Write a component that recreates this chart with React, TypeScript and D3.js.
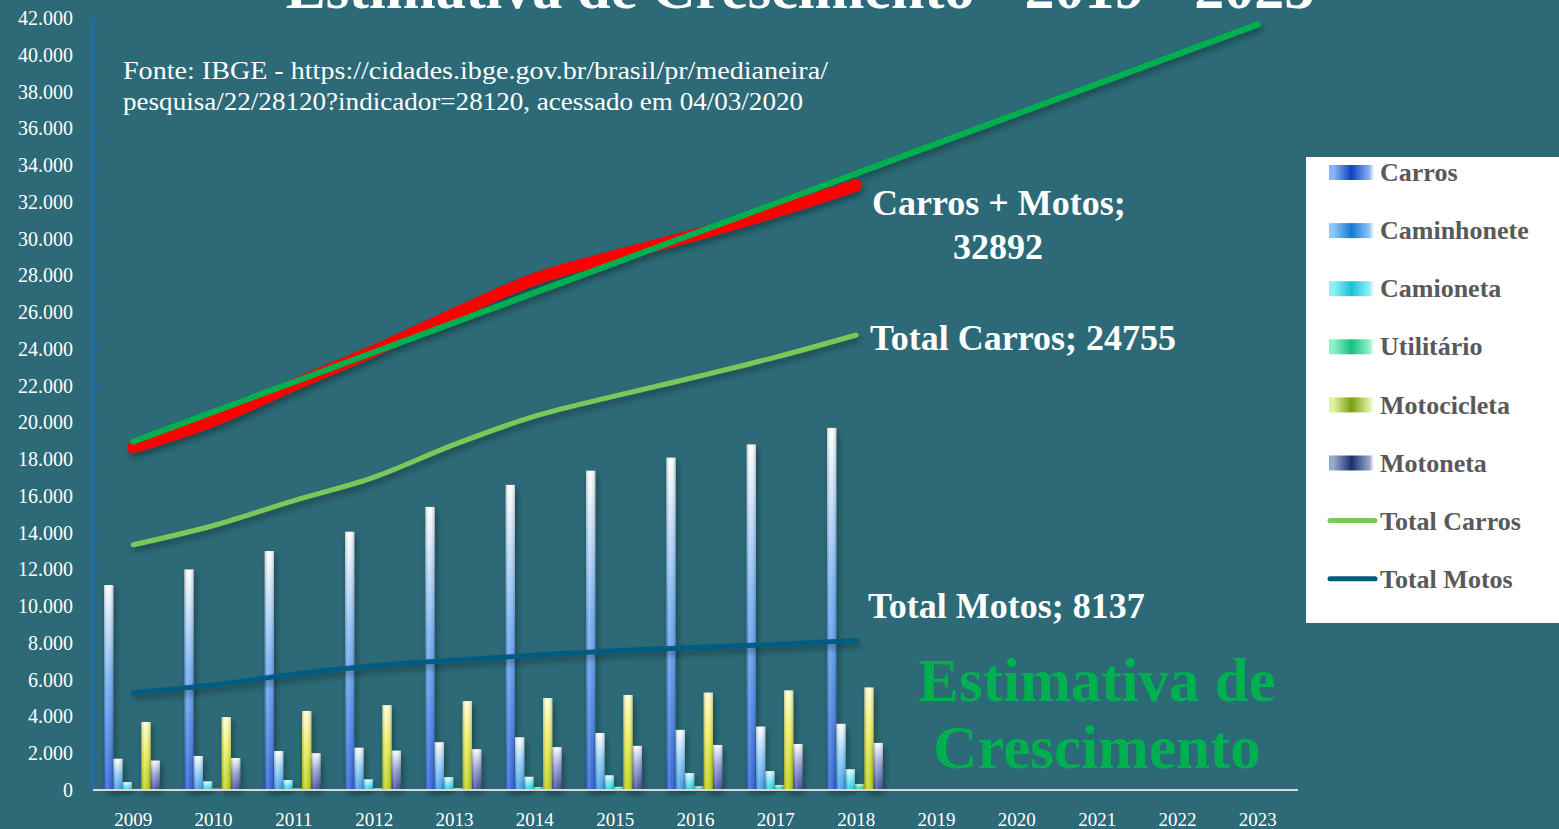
import React from 'react';
import * as d3 from 'd3';

const years = ['2009', '2010', '2011', '2012', '2013', '2014', '2015', '2016', '2017', '2018', '2019', '2020', '2021', '2022', '2023'];
const dataYears = years.slice(0, 10);

const seriesNames = ['Carros', 'Caminhonete', 'Camioneta', 'Utilitário', 'Motocicleta', 'Motoneta'];
const carros = [11150, 12000, 13000, 14050, 15400, 16600, 17370, 18080, 18800, 19700];
const caminhonete = [1700, 1850, 2120, 2300, 2600, 2870, 3100, 3270, 3450, 3600];
const camioneta = [430, 470, 540, 580, 700, 720, 800, 920, 1030, 1130];
const utilitario = [60, 70, 80, 90, 100, 150, 170, 200, 270, 320];
const motocicleta = [3700, 3970, 4300, 4620, 4840, 5000, 5170, 5300, 5420, 5580];
const motoneta = [1600, 1740, 2000, 2140, 2220, 2330, 2400, 2450, 2500, 2560];

const totalCarros = [13340, 14390, 15740, 17020, 18800, 20340, 21440, 22470, 23550, 24755];
const totalMotos = [5300, 5710, 6300, 6760, 7060, 7330, 7570, 7750, 7920, 8137];
const carrosMotos = [18640, 20100, 22040, 23900, 25900, 27800, 29050, 30200, 31470, 32892];
// linear trend line (Excel), endpoints
const trendYears = ['2009', '2023'];
const trendValues = [18950, 41650];

const yTicks = d3.range(0, 42001, 2000);

const barSeries = [carros, caminhonete, camioneta, utilitario, motocicleta, motoneta];
// [bottom, middle, top] for bars; [edge, center] for legend swatches
const barColors = [
  ['#2f66d8', '#78b2f4', '#ffffff'],
  ['#3f9cec', '#96d2fa', '#ffffff'],
  ['#1fcbe4', '#7eeaf8', '#e8fcff'],
  ['#1fc58a', '#6fe0b6', '#d8fff0'],
  ['#c0d41c', '#ecee60', '#ffffd0'],
  ['#3e4e9c', '#98a2d4', '#ffffff'],
];
const swatchColors = [
  ['#8ab4f8', '#1040c0'],
  ['#8cc8f8', '#1878d0'],
  ['#90f0f8', '#18c0d8'],
  ['#90f0c8', '#18c080'],
  ['#e0f0a0', '#78a010'],
  ['#98a8cc', '#1a3070'],
];

const BG = '#2b6a76';
const serif = '"Liberation Serif", "DejaVu Serif", serif';

export default function App() {
  const width = 1559;
  const height = 829;

  const x = d3.scaleBand<string>().domain(years).range([93, 1298]).padding(0);
  const inner = d3.scaleBand<number>().domain(d3.range(6)).range([11, 67]).padding(0);
  const y = d3.scaleLinear().domain([0, 42000]).range([790, 18]);
  const cx = (yr: string) => (x(yr) as number) + x.bandwidth() / 2;

  const fmt = d3.formatLocale({ decimal: ',', thousands: '.', grouping: [3], currency: ['', ''] }).format(',d');

  const line = d3.line<[string, number]>().x(d => cx(d[0])).y(d => y(d[1])).curve(d3.curveMonotoneX);
  const zip = (vals: number[], ys: string[] = dataYears) => vals.map((v, i) => [ys[i], v] as [string, number]);

  const legendItems = [...seriesNames, 'Total Carros', 'Total Motos'];

  return (
    <svg width={width} height={height} style={{ display: 'block', position: 'absolute', left: 0, top: 0 }}>
      <defs>
        {barColors.map((c, i) => (
          <linearGradient key={i} id={`bar${i}`} x1="0" y1="1" x2="0" y2="0">
            <stop offset="0" stopColor={c[0]} />
            <stop offset="0.55" stopColor={c[1]} />
            <stop offset="1" stopColor={c[2]} />
          </linearGradient>
        ))}
        <linearGradient id="gloss" x1="0" y1="0" x2="1" y2="0">
          <stop offset="0" stopColor="#000" stopOpacity="0.2" />
          <stop offset="0.3" stopColor="#fff" stopOpacity="0.2" />
          <stop offset="0.55" stopColor="#fff" stopOpacity="0.05" />
          <stop offset="1" stopColor="#000" stopOpacity="0.22" />
        </linearGradient>
        {swatchColors.map((c, i) => (
          <linearGradient key={i} id={`sw${i}`} x1="0" y1="0" x2="1" y2="0">
            <stop offset="0" stopColor={c[0]} />
            <stop offset="0.1" stopColor={c[0]} />
            <stop offset="0.5" stopColor={c[1]} />
            <stop offset="0.9" stopColor={c[0]} />
            <stop offset="1" stopColor="#ffffff" />
          </linearGradient>
        ))}
        <filter id="shadow" x="-10%" y="-10%" width="120%" height="130%">
          <feDropShadow dx="2" dy="4" stdDeviation="3" floodColor="#000" floodOpacity="0.35" />
        </filter>
      </defs>

      <rect x={0} y={0} width={width} height={height} fill={BG} />

      {/* title, clipped at the top of the picture as in the slide */}
      <text x={800} y={8} textAnchor="middle" fill="#fff" fontFamily={serif} fontWeight="bold" fontSize={60}>
        Estimativa de Crescimento - 2019 - 2023
      </text>

      {/* y axis */}
      <line x1={93} x2={93} y1={y(42000)} y2={y(0)} stroke="#1a6cc8" strokeWidth={2} />
      {yTicks.map(t => (
        <g key={t}>
          <line x1={93} x2={99} y1={y(t)} y2={y(t)} stroke="#1a6cc8" strokeWidth={1.5} />
          <text x={73} y={y(t)} dy="0.35em" textAnchor="end" fill="#fff" fontFamily={serif} fontSize={20}>
            {fmt(t)}
          </text>
        </g>
      ))}

      {/* bars */}
      {barSeries.map((vals, si) => (
        <g key={si} filter="url(#shadow)">
          {vals.map((v, i) => {
            const bx = (x(dataYears[i]) as number) + (inner(si) as number);
            const bw = inner.bandwidth();
            return (
              <g key={i}>
                <rect x={bx} y={y(v)} width={bw} height={y(0) - y(v)} fill={`url(#bar${si})`} />
                <rect x={bx} y={y(v)} width={bw} height={y(0) - y(v)} fill="url(#gloss)" />
              </g>
            );
          })}
        </g>
      ))}

      {/* x axis */}
      <line x1={93} x2={1298} y1={y(0)} y2={y(0)} stroke="#d9d9d9" strokeWidth={2} />
      {years.map(yr => (
        <text key={yr} x={cx(yr)} y={826} textAnchor="middle" fill="#fff" fontFamily={serif} fontSize={19}>
          {yr}
        </text>
      ))}

      {/* lines */}
      <g filter="url(#shadow)" fill="none" strokeLinecap="round">
        <path d={line(zip(totalMotos)) as string} stroke="#005b82" strokeWidth={5} />
        <path d={line(zip(totalCarros)) as string} stroke="#78c85a" strokeWidth={5} />
        <path d={line(zip(carrosMotos)) as string} stroke="#ff0000" strokeWidth={12} />
        <path d={d3.line<[string, number]>().x(d => cx(d[0])).y(d => y(d[1]))(zip(trendValues, trendYears)) as string} stroke="#00b050" strokeWidth={6} />
      </g>

      {/* source note */}
      <g fill="#fff" fontFamily={serif} fontSize={26}>
        <text x={123} y={79} textLength={705} lengthAdjust="spacingAndGlyphs">Fonte: IBGE - https://cidades.ibge.gov.br/brasil/pr/medianeira/</text>
        <text x={123} y={110} textLength={680} lengthAdjust="spacingAndGlyphs">pesquisa/22/28120?indicador=28120, acessado em 04/03/2020</text>
      </g>

      {/* data labels */}
      <g fill="#fff" fontFamily={serif} fontWeight="bold" fontSize={36}>
        <text x={872} y={215}>Carros + Motos;</text>
        <text x={998} y={259} textAnchor="middle">{carrosMotos[9]}</text>
        <text x={870} y={350}>Total Carros; {totalCarros[9]}</text>
        <text x={868} y={618}>Total Motos; {totalMotos[9]}</text>
      </g>

      <g fill="#00b050" fontFamily={serif} fontWeight="bold" fontSize={61} textAnchor="middle">
        <text x={1097} y={701}>Estimativa de</text>
        <text x={1097} y={768}>Crescimento</text>
      </g>

      {/* legend */}
      <rect x={1306} y={157} width={260} height={466} fill="#fff" />
      {legendItems.map((name, i) => {
        const ly = 172 + i * 58.1;
        return (
          <g key={name}>
            {i < 6 ? (
              <rect x={1329} y={ly - 7} width={45} height={15} fill={`url(#sw${i})`} />
            ) : (
              <line x1={1330} x2={1375} y1={ly} y2={ly} stroke={i === 6 ? '#78c85a' : '#005b82'} strokeWidth={5} strokeLinecap="round" />
            )}
            <text x={1380} y={ly} dy="0.35em" fill="#595959" fontFamily={serif} fontWeight="bold" fontSize={26}>
              {name}
            </text>
          </g>
        );
      })}
    </svg>
  );
}
